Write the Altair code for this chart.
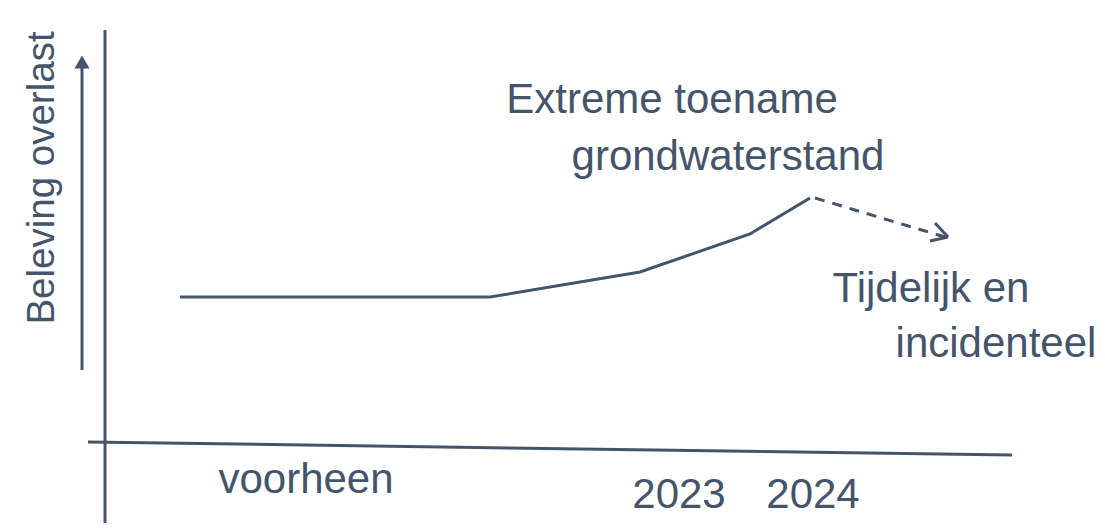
import altair as alt
import pandas as pd

COLOR = "#44546a"

# Schematic coordinates (x to the right, y downward)
curve_x = [180, 490, 640, 750, 810]
curve_y = [297, 297, 272, 234, 198]

seg_name = ["v_axis", "h_axis", "arrow_shaft", "dash", "head_up", "head_low"]
seg_x1 = [105, 88, 82, 815, 935, 930]
seg_y1 = [30, 442, 370, 198, 223, 241]
seg_x2 = [105, 1012, 82, 945, 948, 948]
seg_y2 = [525, 455, 66, 237, 237, 237]
seg_dash = ["solid", "solid", "solid", "dashed", "solid", "solid"]

tip_x = [82]
tip_y = [62]

label_text = ["Extreme toename", "grondwaterstand", "Tijdelijk en", "incidenteel",
              "voorheen", "2023", "2024"]
label_x = [672, 728, 931, 996, 306, 679, 813]
label_y = [113, 170, 302, 357, 493, 508, 508]

ylabel_text = ["Beleving overlast"]
ylabel_x = [54]
ylabel_y = [178]

W, H = 1089, 515
xs = alt.Scale(domain=[8, 8 + W], nice=False, zero=False)
ys = alt.Scale(domain=[8 + H, 8], nice=False, zero=False)
X = lambda f: alt.X(f, type="quantitative", scale=xs, axis=None)
Y = lambda f: alt.Y(f, type="quantitative", scale=ys, axis=None)

curve_df = pd.DataFrame({"x": curve_x, "y": curve_y, "o": range(len(curve_x))})
seg_df = pd.DataFrame({"name": seg_name, "x": seg_x1, "y": seg_y1, "x2": seg_x2,
                       "y2": seg_y2, "style": seg_dash})
tip_df = pd.DataFrame({"x": tip_x, "y": tip_y})
label_df = pd.DataFrame({"t": label_text, "x": label_x, "y": label_y})
ylabel_df = pd.DataFrame({"t": ylabel_text, "x": ylabel_x, "y": ylabel_y})

curve = alt.Chart(curve_df).mark_line(color=COLOR, strokeWidth=3).encode(
    x=X("x"), y=Y("y"), order="o:Q")

solid = alt.Chart(seg_df).transform_filter(alt.datum.style == "solid").mark_rule(
    color=COLOR, strokeWidth=3).encode(x=X("x"), y=Y("y"), x2="x2", y2="y2")

dashed = alt.Chart(seg_df).transform_filter(alt.datum.style == "dashed").mark_rule(
    color=COLOR, strokeWidth=3, strokeDash=[10, 8]).encode(
    x=X("x"), y=Y("y"), x2="x2", y2="y2")

tip = alt.Chart(tip_df).mark_point(shape="triangle-up", filled=True, opacity=1,
                                   color=COLOR, size=230).encode(x=X("x"), y=Y("y"))

labels = alt.Chart(label_df).mark_text(
    color=COLOR, font="Liberation Sans", fontSize=42, align="center",
    baseline="alphabetic").encode(x=X("x"), y=Y("y"), text="t")

ylabel = alt.Chart(ylabel_df).mark_text(
    color=COLOR, font="Liberation Sans", fontSize=38.5,
    align="center", baseline="alphabetic", angle=270).encode(
    x=X("x"), y=Y("y"), text="t")

chart = alt.layer(curve, solid, dashed, tip, labels, ylabel).properties(
    width=W, height=H, autosize=alt.AutoSizeParams(type="none"), padding=0,
    background="white"
).configure_view(stroke=None)

chart.save("out.html", embed_options={"renderer": "svg", "actions": False})
